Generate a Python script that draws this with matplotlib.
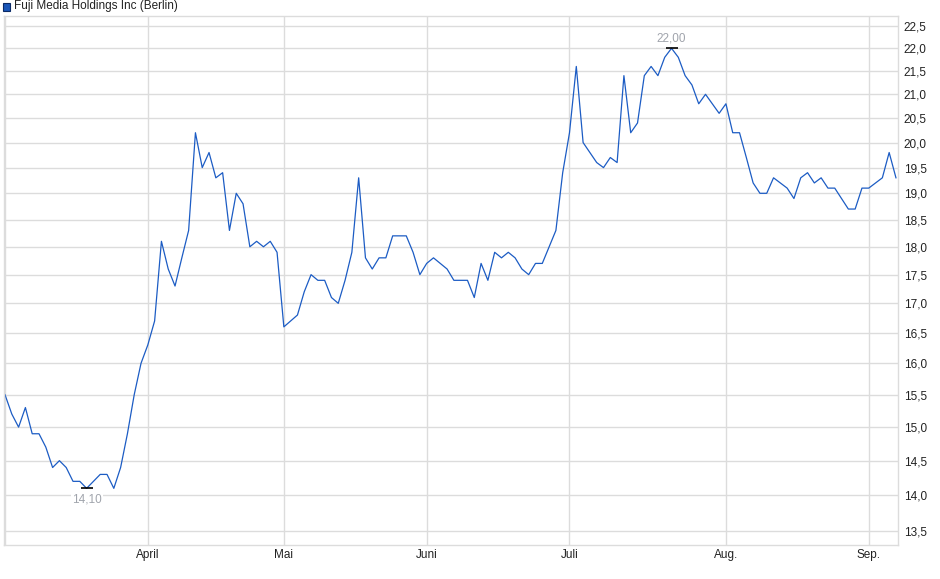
import numpy as np
import matplotlib
matplotlib.use('Agg')
import matplotlib.pyplot as plt
from matplotlib.ticker import FixedLocator, FuncFormatter, NullLocator
from matplotlib.patches import Rectangle

plt.rcParams['font.family'] = ['Liberation Sans', 'DejaVu Sans']

# daily closing prices (trading days)
prices = [15.5, 15.2, 15.0, 15.3, 14.9, 14.9, 14.7, 14.4, 14.5, 14.4,
          14.2, 14.2, 14.1, 14.2, 14.3, 14.3, 14.1, 14.4, 14.9, 15.5,
          16.0, 16.3, 16.7, 18.1, 17.6, 17.3, 17.8, 18.3, 20.2, 19.5,
          19.8, 19.3, 19.4, 18.3, 19.0, 18.8, 18.0, 18.1, 18.0, 18.1,
          17.9, 16.6, 16.7, 16.8, 17.2, 17.5, 17.4, 17.4, 17.1, 17.0,
          17.4, 17.9, 19.3, 17.8, 17.6, 17.8, 17.8, 18.2, 18.2, 18.2,
          17.9, 17.5, 17.7, 17.8, 17.7, 17.6, 17.4, 17.4, 17.4, 17.1,
          17.7, 17.4, 17.9, 17.8, 17.9, 17.8, 17.6, 17.5, 17.7, 17.7,
          18.0, 18.3, 19.4, 20.2, 21.6, 20.0, 19.8, 19.6, 19.5, 19.7,
          19.6, 21.4, 20.2, 20.4, 21.4, 21.6, 21.4, 21.8, 22.0, 21.8,
          21.4, 21.2, 20.8, 21.0, 20.8, 20.6, 20.8, 20.2, 20.2, 19.7,
          19.2, 19.0, 19.0, 19.3, 19.2, 19.1, 18.9, 19.3, 19.4, 19.2,
          19.3, 19.1, 19.1, 18.9, 18.7, 18.7, 19.1, 19.1, 19.2, 19.3,
          19.8, 19.3]

month_idx = [0, 21, 41, 62, 83, 106, 127]
month_labels = ['', 'April', 'Mai', 'Juni', 'Juli', 'Aug.', 'Sep.']
y_ticks = [13.5, 14.0, 14.5, 15.0, 15.5, 16.0, 16.5, 17.0, 17.5, 18.0,
           18.5, 19.0, 19.5, 20.0, 20.5, 21.0, 21.5, 22.0, 22.5]

x = np.arange(len(prices))
prices = np.array(prices)

fig = plt.figure(figsize=(9.4, 5.79), dpi=100)
ax = fig.add_axes([3.5 / 940, 34 / 579, 894.5 / 940, 529 / 579])

grid_col = '#dcdcdc'
ax.set_yscale('log')
ax.set_ylim(13.315, 22.73)
ax.set_xlim(-0.22, 131.3)

ax.yaxis.set_major_locator(FixedLocator(y_ticks))
ax.yaxis.set_minor_locator(NullLocator())
ax.yaxis.set_major_formatter(FuncFormatter(lambda v, p: ('%.1f' % v).replace('.', ',')))
ax.xaxis.set_major_locator(FixedLocator(month_idx))
ax.set_xticklabels(month_labels)

ax.grid(True, color=grid_col, linewidth=1.0)
ax.set_axisbelow(True)
for s in ax.spines.values():
    s.set_color(grid_col)
    s.set_linewidth(1.0)

ax.yaxis.tick_right()
ax.tick_params(axis='y', length=0, pad=4, labelsize=8.5, labelcolor='#222222')
ax.tick_params(axis='x', length=0, pad=3, labelsize=8.5, labelcolor='#222222')

ax.plot(x, prices, color='#1c5cc4', linewidth=0.9)

# min / max markers
i_min = int(np.argmin(prices))
i_max = int(np.argmax(prices))
for i, dy, va in [(i_min, -4, 'top'), (i_max, 3, 'bottom')]:
    ax.plot([i], [prices[i]], marker='_', color='k', markersize=8, markeredgewidth=1.2)
    ax.annotate(('%.2f' % prices[i]).replace('.', ','), (i, prices[i]),
                xytext=(0, dy), textcoords='offset points', ha='center', va=va,
                fontsize=8.5, color='#a0a4ac',
                bbox=dict(boxstyle='square,pad=0.1', fc='white', ec='none'))

# legend / title
fig.patches.append(Rectangle((3 / 940, 1 - 11 / 579), 7 / 940, 8 / 579,
                             transform=fig.transFigure, facecolor='#1a56b8',
                             edgecolor='#0b2a66', linewidth=0.8))
fig.text(14 / 940, 1 - 6.5 / 579, 'Fuji Media Holdings Inc (Berlin)',
         fontsize=8.5, color='#222222', va='center', ha='left')

fig.savefig('out.png', dpi=100)
